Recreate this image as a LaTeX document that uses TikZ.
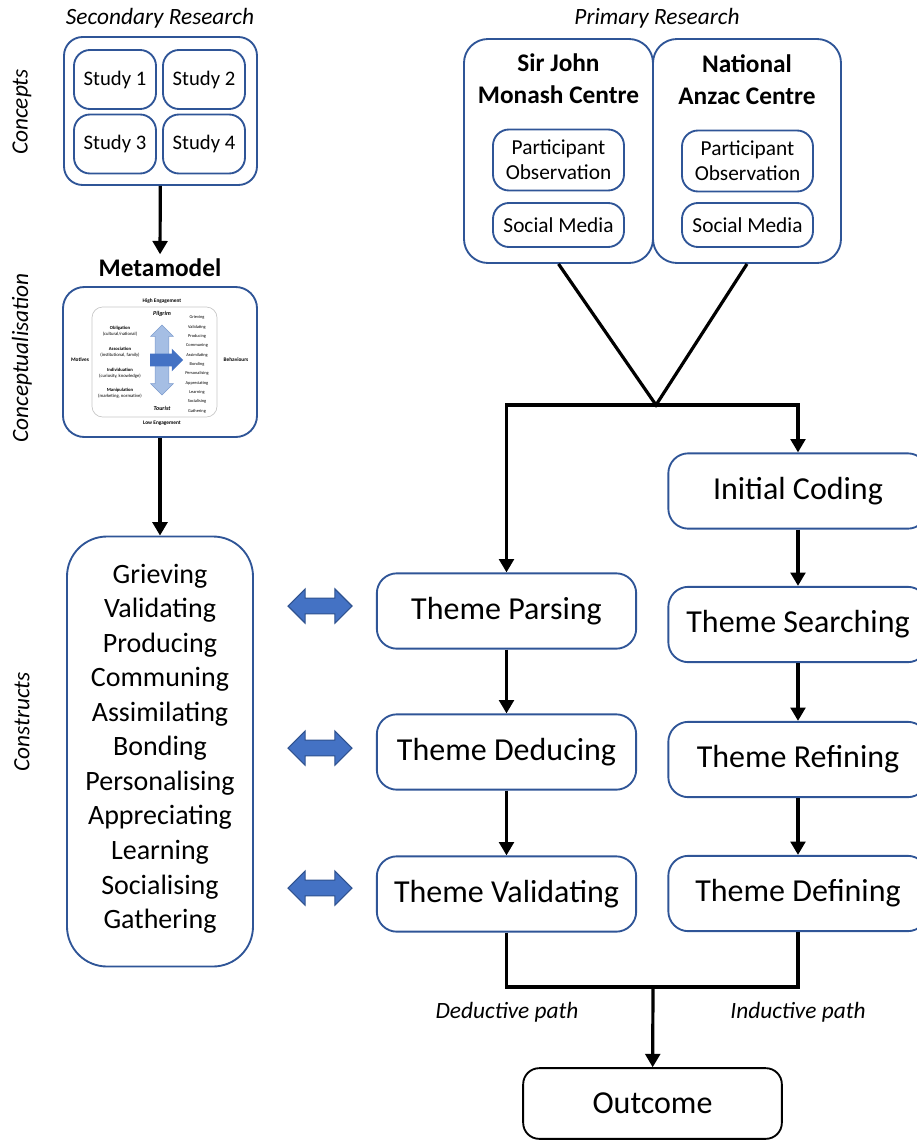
\documentclass[tikz,border=0pt]{standalone}
\usepackage{fontspec}
\setmainfont{Carlito}
\usepackage{tikz}
\usetikzlibrary{positioning,arrows.meta,shapes.arrows}

\definecolor{boxblue}{RGB}{47,85,151}
\definecolor{arrowblue}{RGB}{68,114,196}
\definecolor{arrowedge}{RGB}{47,82,143}
\definecolor{paleblue}{RGB}{165,190,228}
\definecolor{paleedge}{RGB}{125,155,205}

\begin{document}
\begin{tikzpicture}[x=0.75pt, y=-0.75pt, >={Triangle[width=11pt,length=10pt]},
	box/.style={draw=boxblue, line width=1.4pt, rounded corners=12pt, align=center, inner sep=0pt},
	study/.style={box, minimum width=61.5pt, minimum height=44.25pt, font=\fontsize{15.5}{18}\selectfont},
	source/.style={box, minimum width=98.25pt, font=\fontsize{16}{18.75}\selectfont},
	theme/.style={box, rounded corners=15pt, minimum width=194.5pt, minimum height=56.5pt, font=\fontsize{24}{28}\selectfont},
	heading/.style={align=center, font=\fontsize{19}{24}\selectfont\bfseries},
	lbl/.style={font=\fontsize{17.5}{21}\selectfont\itshape},
	link/.style={line width=2.4pt},
	flow/.style={->, link},
	biarrow/.style={double arrow, draw=arrowedge, fill=arrowblue, line width=0.8pt, minimum height=48pt, minimum width=25pt, double arrow head extend=7pt, inner xsep=0pt, inner ysep=5.5pt},
	tiny/.style={align=center, inner sep=0pt, font=\fontsize{3.5}{4.2}\selectfont}]

	\useasboundingbox (0,0) rectangle (917,1142);

	% stage labels
	\node[lbl, rotate=90] (conc) at (22,112) {Concepts};
	\node[lbl, rotate=90] (concz) at (22,358) {Conceptualisation};
	\node[lbl, rotate=90] (cons) at (22,722) {Constructs};

	% secondary research
	\node[lbl] (sec) at (160,18) {Secondary Research};
	\node[box, rounded corners=14pt, minimum width=144.75pt, minimum height=111pt] (concepts) at (160.5,111) {};
	\node[study] (s1) at (115,79.5) {Study 1};
	\node[study] (s2) at (204,79.5) {Study 2};
	\node[study] (s3) at (115,144) {Study 3};
	\node[study] (s4) at (204,144) {Study 4};

	\node[heading] (mmtitle) at (160,268) {Metamodel};
	\node[box, rounded corners=16pt, minimum width=145.5pt, minimum height=112.5pt] (mmbox) at (160,362) {};

	% metamodel figure
	\node[draw=gray!45, line width=0.5pt, rounded corners=8pt, minimum width=93.75pt, minimum height=82.5pt] (mminner) at (154.5,362) {};
	\node[tiny, font=\fontsize{4}{5}\selectfont\bfseries] (hi) at (162,301) {High Engagement};
	\node[tiny, font=\fontsize{4}{5}\selectfont\bfseries] (lo) at (162,423) {Low Engagement};
	\node[tiny, font=\fontsize{4}{5}\selectfont\bfseries] (mot) at (80,360) {Motives};
	\node[tiny, font=\fontsize{4}{5}\selectfont\bfseries] (beh) at (236,360) {Behaviours};
	\node[double arrow, rotate=90, draw=paleedge, fill=paleblue, line width=0.4pt, minimum height=52.5pt, minimum width=16.5pt, double arrow head extend=3.4pt, inner xsep=0pt, inner ysep=4.9pt] (axis) at (162,360) {};
	\node[single arrow, fill=arrowblue, minimum height=24.75pt, minimum width=16.5pt, single arrow head extend=3.75pt, inner xsep=0pt, inner ysep=4.5pt] (mmarrow) at (163.5,360) {};
	\node[tiny, font=\fontsize{4.5}{5}\selectfont\bfseries\itshape] (pil) at (162,314) {Pilgrim};
	\node[tiny, font=\fontsize{4.5}{5}\selectfont\bfseries\itshape] (tou) at (162,408) {Tourist};
	\node[tiny] (m1) at (120,331) {\textbf{Obligation}\\(cultural/national)};
	\node[tiny] (m2) at (120,352) {\textbf{Association}\\(institutional, family)};
	\node[tiny] (m3) at (120,373) {\textbf{Individuation}\\(curiosity, knowledge)};
	\node[tiny] (m4) at (120,393.5) {\textbf{Manipulation}\\(marketing, normative)};
	\node[tiny, font=\fontsize{3.3}{7}\selectfont] (blist) at (197,364.5) {Grieving\\Validating\\Producing\\Communing\\Assimilating\\Bonding\\Personalising\\Appreciating\\Learning\\Socialising\\Gathering};

	\node[box, rounded corners=30pt, minimum width=139.5pt, minimum height=322.5pt, font=\fontsize{21}{25.9}\selectfont] (constr) at (160,751.5) {Grieving\\Validating\\Producing\\Communing\\Assimilating\\Bonding\\Personalising\\Appreciating\\Learning\\Socialising\\Gathering\\[-18pt]};

	\path
	(concepts) edge[flow] (mmtitle)
	(mmbox) edge[flow] (constr);

	% primary research
	\node[lbl] (prim) at (657,18) {Primary Research};
	\node[box, rounded corners=18pt, minimum width=141.75pt, minimum height=168pt] (sjm) at (558.5,151) {};
	\node[box, rounded corners=18pt, minimum width=141pt, minimum height=168pt] (nac) at (747,151) {};
	\node[heading] (sjmt) at (558.5,79) {Sir John\\Monash Centre};
	\node[heading] (nact) at (747,80) {National\\Anzac Centre};
	\node[source, minimum height=45.75pt] (po1) at (558.5,160) {Participant\\Observation};
	\node[source, minimum height=33pt] (sm1) at (558.5,225) {Social Media};
	\node[source, minimum height=45.75pt] (po2) at (747.5,161) {Participant\\Observation};
	\node[source, minimum height=33pt] (sm2) at (747.5,225) {Social Media};

	% deductive path
	\node[theme] (parse) at (506.5,611) {Theme Parsing};
	\node[theme] (deduce) at (506.5,752) {Theme Deducing};
	\node[theme] (valid) at (506.5,894) {Theme Validating};

	% inductive path
	\node[theme] (icode) at (798,491) {Initial Coding};
	\node[theme] (search) at (798,624.5) {Theme Searching};
	\node[theme] (refine) at (798,759.5) {Theme Refining};
	\node[theme] (defin) at (798,893.5) {Theme Defining};

	\node[biarrow] (link1) at (320,606) {};
	\node[biarrow] (link2) at (320,748) {};
	\node[biarrow] (link3) at (320,888) {};

	\coordinate (join) at (656,405);
	\draw[link] (sjm.south) -- (join) -- (nac.south);
	\draw[flow] (join) -| (parse);
	\draw[flow] (join) -| (icode);

	\path
	(parse) edge[flow] (deduce)
	(deduce) edge[flow] (valid)
	(icode) edge[flow] (search)
	(search) edge[flow] (refine)
	(refine) edge[flow] (defin);

	% outcome
	\node[box, draw=black, minimum width=194pt, minimum height=53pt, font=\fontsize{24}{28}\selectfont] (outcome) at (652.5,1103.5) {Outcome};
	\coordinate (merge) at (653,987);
	\draw[link] (valid) |- (merge) -| (defin);
	\draw[flow] (merge) -- (outcome);
	\node[lbl] (dedlbl) at (507,1012) {Deductive path};
	\node[lbl] (indlbl) at (798,1012) {Inductive path};
\end{tikzpicture}
\end{document}
